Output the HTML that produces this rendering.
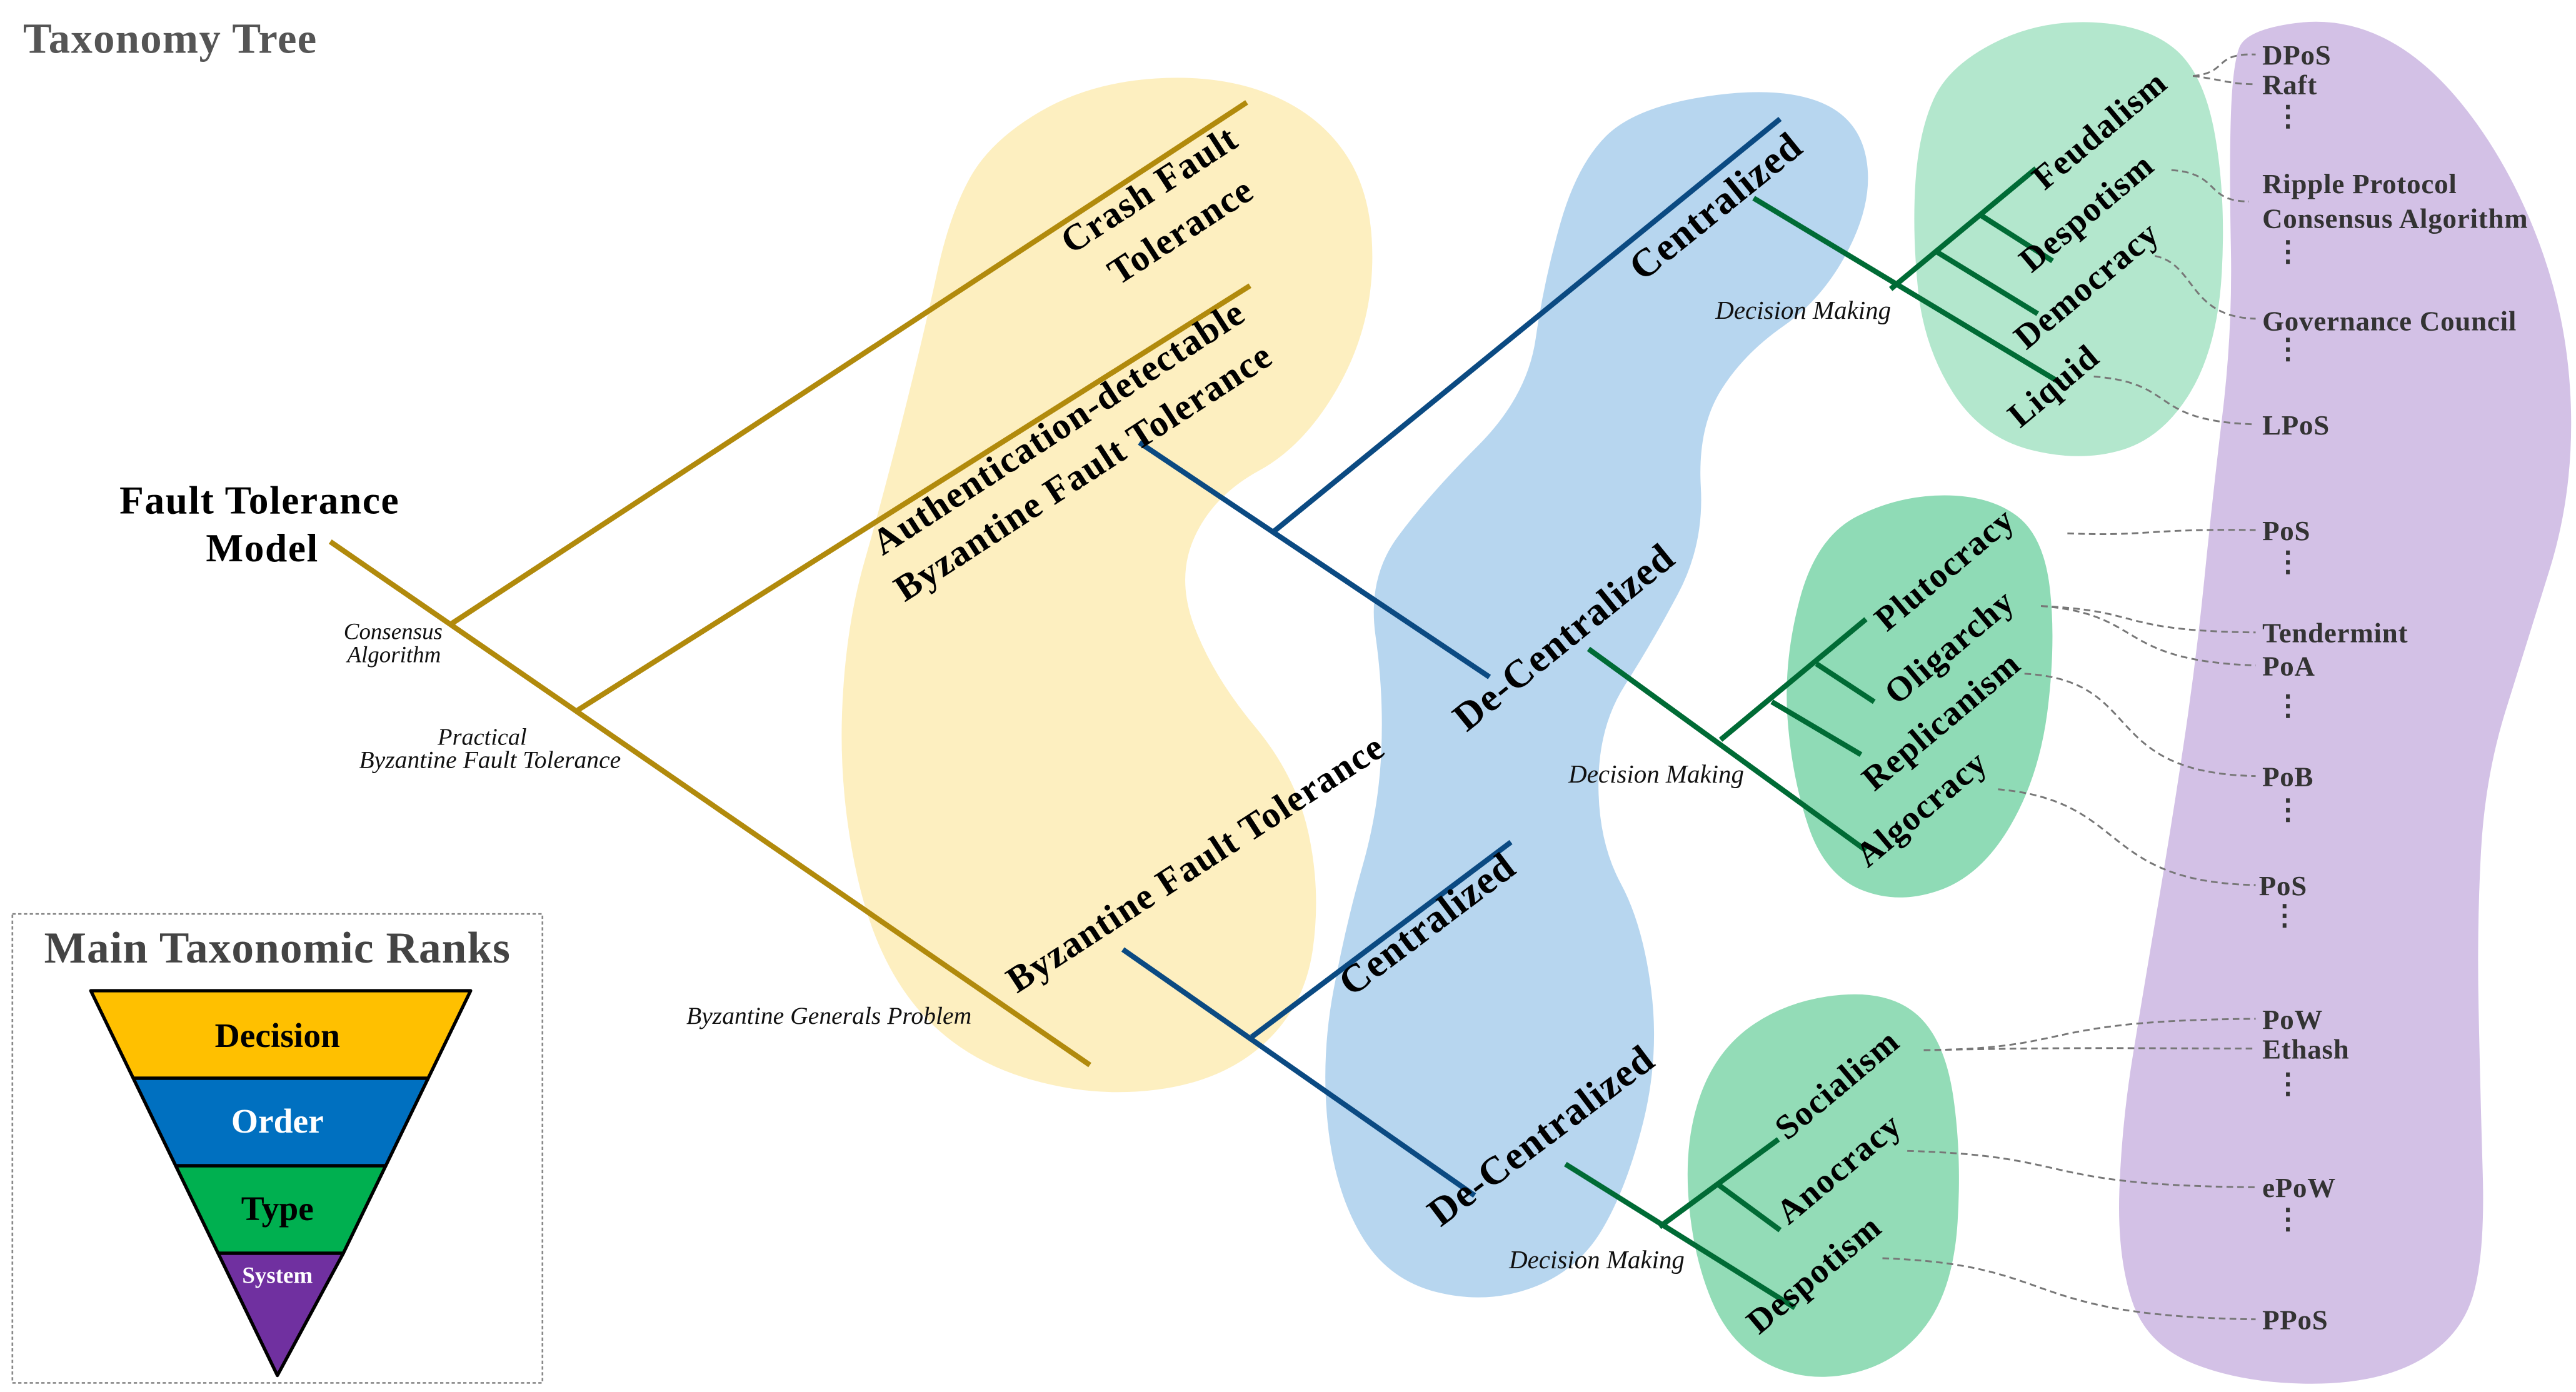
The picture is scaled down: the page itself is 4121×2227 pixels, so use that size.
<!DOCTYPE html>
<html><head><meta charset="utf-8">
<style>
html,body{margin:0;padding:0;background:#fff;}
svg{display:block;}
text{font-family:"Liberation Serif",serif;}
.b{font-weight:bold;fill:#000;letter-spacing:0.6px;}
.i{font-style:italic;fill:#111;}
.r{font-weight:bold;fill:#333;font-size:17px;letter-spacing:0.3px;}
.dash{fill:none;stroke:#777;stroke-width:1.1;stroke-dasharray:4,2.5;}
</style></head>
<body>
<svg width="4121" height="2227" viewBox="0 0 1560 843" xmlns="http://www.w3.org/2000/svg">
<polygon class="blob" fill="#fdefc0" points="600,85 660,50 740,45 800,70 832,120 830,200 790,270 735,300 712,350 735,410 785,470 800,540 790,610 740,655 660,665 580,640 530,580 508,480 512,380 535,300 560,200 575,130"/>
<polygon class="blob" fill="#b7d6ef" points="990,65 1075,52 1125,70 1135,120 1105,180 1055,215 1028,260 1032,330 1000,390 968,440 968,510 995,560 1005,640 985,720 955,770 900,790 840,775 808,720 800,640 815,560 835,490 838,420 828,350 865,300 925,240 935,170 955,100"/>
<polygon class="blob" fill="#b3e7cd" points="1180,40 1235,12 1300,15 1335,45 1348,120 1343,210 1310,265 1260,280 1200,265 1165,210 1158,140 1162,80"/>
<polygon class="blob" fill="#8fdbb6" points="1100,325 1150,300 1205,300 1238,325 1245,390 1235,470 1200,530 1150,548 1105,530 1085,470 1080,400"/>
<polygon class="blob" fill="#93dcb7" points="1040,635 1085,605 1145,600 1178,630 1188,700 1183,780 1150,825 1095,838 1048,815 1025,760 1020,690"/>
<polygon class="blob" fill="#d3c1e6" points="1360,18 1420,10 1475,40 1525,110 1556,200 1558,300 1530,390 1505,470 1500,560 1502,660 1505,760 1490,810 1440,838 1360,838 1300,815 1282,760 1285,680 1298,600 1315,500 1330,400 1340,300 1352,200 1350,100 1352,40"/>

<g stroke="#b18a0c" stroke-width="3.2" fill="none">
<line x1="200" y1="328" x2="660" y2="645"/>
<line x1="273" y1="378" x2="755" y2="62"/>
<line x1="350" y1="430" x2="757" y2="173"/>
</g>
<g stroke="#0b4a82" stroke-width="3.2" fill="none">
<line x1="690" y1="268" x2="902" y2="410"/>
<line x1="770" y1="323" x2="1078" y2="72"/>
<line x1="680" y1="575" x2="893" y2="724"/>
<line x1="758" y1="628" x2="915" y2="510"/>
</g>
<g stroke="#006b35" stroke-width="3.2" fill="none">
<line x1="1062" y1="120" x2="1248" y2="232"/>
<line x1="1145" y1="175" x2="1233" y2="102"/>
<line x1="1199" y1="130" x2="1243" y2="158"/>
<line x1="1172" y1="152" x2="1234" y2="190"/>
<line x1="962" y1="393" x2="1130" y2="515"/>
<line x1="1042" y1="448" x2="1130" y2="375"/>
<line x1="1100" y1="402" x2="1135" y2="425"/>
<line x1="1073" y1="425" x2="1127" y2="457"/>
<line x1="948" y1="705" x2="1087" y2="792"/>
<line x1="1005" y1="743" x2="1077" y2="690"/>
<line x1="1040" y1="717" x2="1078" y2="745"/>
</g>

<path class="dash" d="M1328,46 C1350,44 1340,32 1366,33"/>
<path class="dash" d="M1328,46 C1345,48 1350,51 1366,51"/>
<path class="dash" d="M1315,103 C1345,105 1335,122 1362,122"/>
<path class="dash" d="M1305,155 C1330,160 1325,192 1366,193"/>
<path class="dash" d="M1268,228 C1320,232 1300,255 1366,257"/>
<path class="dash" d="M1252,323 C1300,325 1300,320 1366,321"/>
<path class="dash" d="M1236,367 C1300,370 1280,382 1366,383"/>
<path class="dash" d="M1236,367 C1300,372 1280,400 1366,403"/>
<path class="dash" d="M1226,408 C1300,412 1270,468 1366,470"/>
<path class="dash" d="M1210,478 C1290,485 1270,534 1366,536"/>
<path class="dash" d="M1165,636 C1260,635 1230,618 1366,617"/>
<path class="dash" d="M1165,636 C1260,634 1300,635 1366,635"/>
<path class="dash" d="M1155,697 C1260,700 1230,718 1366,719"/>
<path class="dash" d="M1140,762 C1250,766 1220,797 1366,799"/>

<text x="14" y="32" font-size="26" font-weight="bold" fill="#555" letter-spacing="0.5">Taxonomy Tree</text>
<text x="242" y="311" font-size="24" class="b" text-anchor="end">Fault Tolerance</text>
<text x="193" y="340" font-size="24" class="b" text-anchor="end">Model</text>
<text x="268" y="387" font-size="14" class="i" text-anchor="end">Consensus</text>
<text x="267" y="401" font-size="14" class="i" text-anchor="end">Algorithm</text>
<text x="319" y="451" font-size="14.5" class="i" text-anchor="end">Practical</text>
<text x="376" y="465" font-size="15" class="i" text-anchor="end">Byzantine Fault Tolerance</text>
<text x="502" y="620" font-size="15" class="i" text-anchor="middle">Byzantine Generals Problem</text>

<g class="b" font-size="22.5" text-anchor="middle">
<text transform="translate(700,121) rotate(-33)">Crash Fault</text>
<text transform="translate(719,146) rotate(-33)">Tolerance</text>
<text transform="translate(645,265) rotate(-33)">Authentication-detectable</text>
<text transform="translate(660,292) rotate(-33)">Byzantine Fault Tolerance</text>
<text transform="translate(728,529) rotate(-33)">Byzantine Fault Tolerance</text>
</g>
<g class="b" font-size="24" text-anchor="middle">
<text transform="translate(1044,131) rotate(-39)">Centralized</text>
<text transform="translate(952,392) rotate(-39)">De-Centralized</text>
<text transform="translate(869,566) rotate(-37)">Centralized</text>
<text transform="translate(938,694) rotate(-37)">De-Centralized</text>
</g>
<g class="b" font-size="21" text-anchor="middle">
<text transform="translate(1276,84) rotate(-40)">Feudalism</text>
<text transform="translate(1268,134) rotate(-40)">Despotism</text>
<text transform="translate(1268,178) rotate(-40)">Democracy</text>
<text transform="translate(1248,239) rotate(-40)">Liquid</text>
<text transform="translate(1182,350) rotate(-40)">Plutocracy</text>
<text transform="translate(1185,397) rotate(-40)">Oligarchy</text>
<text transform="translate(1180,442) rotate(-40)">Replicanism</text>
<text transform="translate(1168,495) rotate(-40)">Algocracy</text>
<text transform="translate(1117,662) rotate(-40)">Socialism</text>
<text transform="translate(1118,713) rotate(-40)">Anocracy</text>
<text transform="translate(1103,777) rotate(-40)">Despotism</text>
</g>
<g class="i" font-size="15.5" text-anchor="middle">
<text x="1092" y="193">Decision Making</text>
<text x="1003" y="474">Decision Making</text>
<text x="967" y="768">Decision Making</text>
</g>

<g class="r">
<text x="1370" y="39">DPoS</text>
<text x="1370" y="57">Raft</text>
<text x="1377" y="76">⋮</text>
<text x="1370" y="117">Ripple Protocol</text>
<text x="1370" y="138">Consensus Algorithm</text>
<text x="1377" y="158">⋮</text>
<text x="1370" y="200">Governance Council</text>
<text x="1377" y="217">⋮</text>
<text x="1370" y="263">LPoS</text>
<text x="1370" y="327">PoS</text>
<text x="1377" y="346">⋮</text>
<text x="1370" y="389">Tendermint</text>
<text x="1370" y="409">PoA</text>
<text x="1377" y="433">⋮</text>
<text x="1370" y="476">PoB</text>
<text x="1377" y="496">⋮</text>
<text x="1368" y="542">PoS</text>
<text x="1375" y="560">⋮</text>
<text x="1370" y="623">PoW</text>
<text x="1370" y="641">Ethash</text>
<text x="1377" y="662">⋮</text>
<text x="1370" y="725">ePoW</text>
<text x="1377" y="744">⋮</text>
<text x="1370" y="805">PPoS</text>
</g>

<rect x="7.5" y="553.5" width="321" height="284" fill="#fff" stroke="#888" stroke-width="1" stroke-dasharray="2,1.5"/>
<text x="168" y="583" font-size="27" font-weight="bold" fill="#444" text-anchor="middle" letter-spacing="0.4">Main Taxonomic Ranks</text>
<g stroke="#000" stroke-width="2" stroke-linejoin="round">
<polygon points="55,600 285,600 259.3,653 80.7,653" fill="#ffc000"/>
<polygon points="80.7,653 259.3,653 233.6,706 106.4,706" fill="#0070c0"/>
<polygon points="106.4,706 233.6,706 207.9,759 132.1,759" fill="#00b050"/>
<polygon points="132.1,759 207.9,759 168,833" fill="#7030a0"/>
</g>
<text x="168" y="634" font-size="21" font-weight="bold" fill="#000" text-anchor="middle">Decision</text>
<text x="168" y="686" font-size="21" font-weight="bold" fill="#fff" text-anchor="middle">Order</text>
<text x="168" y="739" font-size="21" font-weight="bold" fill="#000" text-anchor="middle">Type</text>
<text x="168" y="777" font-size="14" font-weight="bold" fill="#fff" text-anchor="middle">System</text>
</svg>
<script>
document.querySelectorAll('polygon.blob').forEach(function(pg){
  var pts=pg.getAttribute('points').trim().split(/\s+/).map(function(s){return s.split(',').map(Number);});
  var n=pts.length,d='';
  function mid(a,b){return [(a[0]+b[0])/2,(a[1]+b[1])/2];}
  var m0=mid(pts[n-1],pts[0]);
  d='M'+m0[0]+','+m0[1];
  for(var i=0;i<n;i++){var p=pts[i],m=mid(p,pts[(i+1)%n]);d+=' Q'+p[0]+','+p[1]+' '+m[0]+','+m[1];}
  var path=document.createElementNS('http://www.w3.org/2000/svg','path');
  path.setAttribute('d',d+'Z');path.setAttribute('fill',pg.getAttribute('fill'));
  pg.parentNode.replaceChild(path,pg);
});
</script>
</body></html>
